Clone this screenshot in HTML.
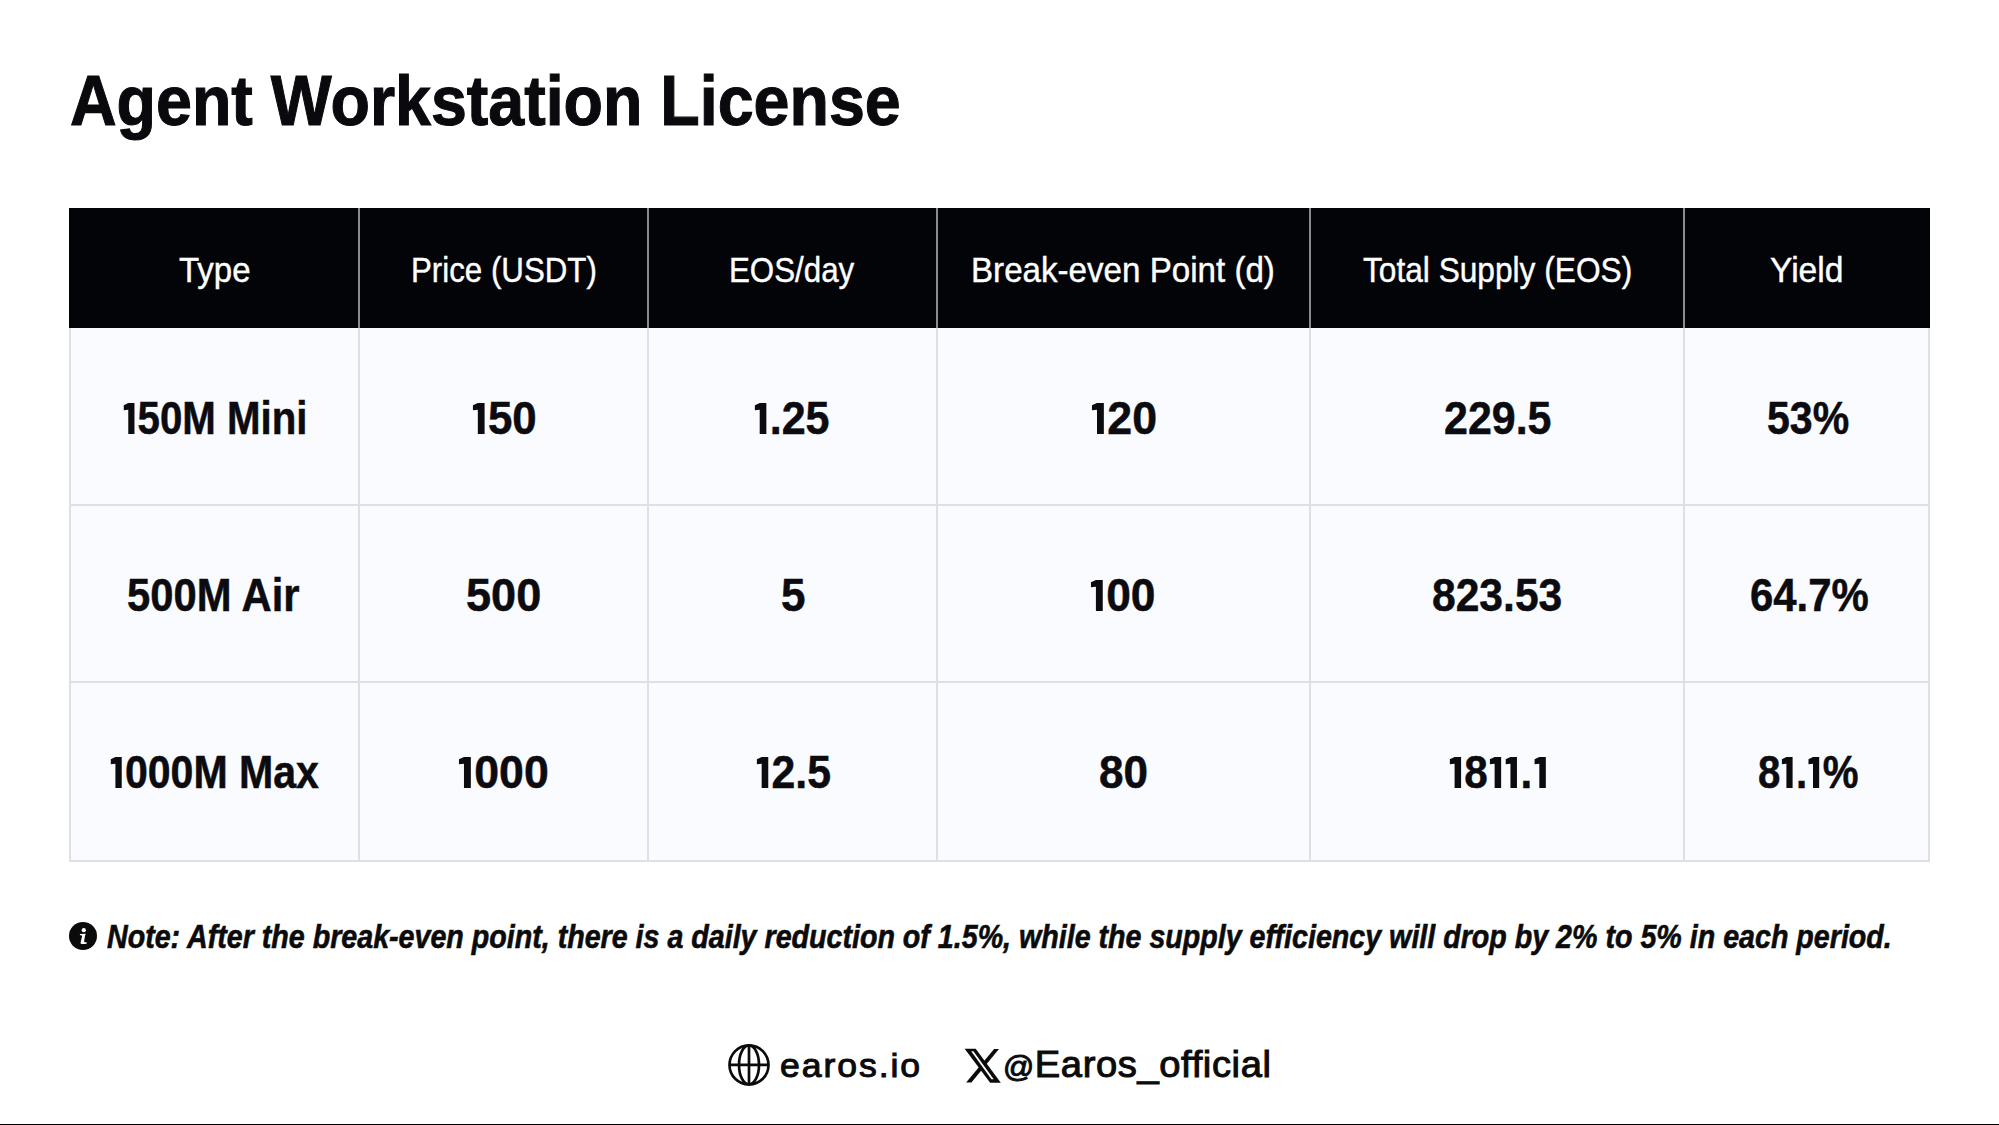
<!DOCTYPE html>
<html><head><meta charset="utf-8"><title>Agent Workstation License</title>
<style>
html,body{margin:0;padding:0;width:1999px;height:1125px;overflow:hidden;background:#ffffff;}
body{position:relative;font-family:"Liberation Sans",sans-serif;}
.tx{position:absolute;white-space:nowrap;line-height:1;transform-origin:0 0;font-weight:bold;color:#0b0b10;}
.t-t{color:#0a0a0e;-webkit-text-stroke:1.1px #0a0a0e;}
.t-h{color:#fff;font-weight:normal;-webkit-text-stroke:0.4px #fff;}
.t-b{-webkit-text-stroke:0.5px #0b0b10;}
.t-n{color:#0b0b0b;font-style:italic;-webkit-text-stroke:0.6px #0b0b0b;}
.t-f{color:#0b0b0b;font-weight:normal;-webkit-text-stroke:1.0px #0b0b0b;}
.at{font-size:29px;}
svg.one{display:inline-block;vertical-align:baseline;fill:#0b0b10;}
.hdr{position:absolute;left:69px;top:208px;width:1861px;height:120px;background:#030408;}
.body{position:absolute;left:69px;top:328px;width:1861px;height:533px;background:#fafbfe;}
.vl{position:absolute;width:2px;}
.vl.hd{top:208px;height:120px;background:#8a8b90;}
.vl.bd{top:328px;height:534px;background:#dfe0e5;}
.hl{position:absolute;left:69px;width:1861px;height:2px;background:#dfe0e5;}
.bl{position:absolute;top:328px;height:534px;width:2px;background:#dfe0e5;}
.bottom{position:absolute;left:0;top:1124px;width:1999px;height:1px;background:#000;}
</style></head><body>
<div class="hdr"></div>
<div class="body"></div>
<div class="vl hd" style="left:358px"></div>
<div class="vl bd" style="left:358px"></div>
<div class="vl hd" style="left:647px"></div>
<div class="vl bd" style="left:647px"></div>
<div class="vl hd" style="left:936px"></div>
<div class="vl bd" style="left:936px"></div>
<div class="vl hd" style="left:1309px"></div>
<div class="vl bd" style="left:1309px"></div>
<div class="vl hd" style="left:1683px"></div>
<div class="vl bd" style="left:1683px"></div>
<div class="hl" style="top:504px"></div>
<div class="hl" style="top:681px"></div>
<div class="hl" style="top:860px"></div>
<div class="bl" style="left:69px"></div>
<div class="bl" style="left:1928px"></div>
<svg style="position:absolute;left:69.3px;top:922.1px" width="28" height="28" viewBox="0 0 28 28">
<circle cx="14" cy="14" r="14" fill="#0b0b0b"/>
<circle cx="14.8" cy="8.2" r="2.1" fill="#fff"/>
<path d="M10.9 12.0 L16.8 11.7 L16.0 13.8 L15.1 19.6 Q15.0 20.3 15.8 20.3 L17.8 20.2 L17.5 21.7 Q16 22.1 13.0 22.0 Q11.2 21.9 11.6 20.4 L13.2 13.8 L10.9 13.1 Z" fill="#fff"/>
</svg>
<svg style="position:absolute;left:727px;top:1043px" width="44" height="44" viewBox="0 0 44 44">
<g fill="none" stroke="#0b0b0b" stroke-width="2.7">
<circle cx="22" cy="21.9" r="19.5"/>
<ellipse cx="22" cy="21.9" rx="10" ry="19.5"/>
<line x1="22" y1="2.4" x2="22" y2="41.4"/>
<line x1="2.5" y1="21.9" x2="41.5" y2="21.9"/>
</g></svg>
<svg style="position:absolute;left:955px;top:1040px" width="55" height="50" viewBox="0 0 55 50">
<path d="M39.1 9.1 L44 9.1 L16.4 42.4 L11.1 42.4 Z" fill="#0b0b0b"/>
<path d="M9.6 8.7 L20.7 8.7 L45.8 42.7 L35.1 42.7 Z" fill="#0b0b0b"/>
<path d="M16.2 11.3 L18.4 11.3 L38.7 39.3 L36.4 39.3 Z" fill="#fff"/>
</svg>
<div id="title" class="tx t-t" style="left:70.09px;top:65.50px;font-size:70.70px;transform:scaleX(0.9129)">Agent Workstation License</div>
<div id="h0" class="tx t-h" style="left:178.81px;top:252.25px;font-size:35.00px;transform:scaleX(0.9421)">Type</div>
<div id="h1" class="tx t-h" style="left:410.66px;top:252.25px;font-size:35.00px;transform:scaleX(0.8931)">Price (USDT)</div>
<div id="h2" class="tx t-h" style="left:729.31px;top:252.25px;font-size:35.00px;transform:scaleX(0.8942)">EOS/day</div>
<div id="h3" class="tx t-h" style="left:970.95px;top:252.25px;font-size:35.00px;transform:scaleX(0.9468)">Break-even Point (d)</div>
<div id="h4" class="tx t-h" style="left:1363.22px;top:252.25px;font-size:35.00px;transform:scaleX(0.9044)">Total Supply (EOS)</div>
<div id="h5" class="tx t-h" style="left:1769.83px;top:252.25px;font-size:35.00px;transform:scaleX(0.9595)">Yield</div>
<div id="r0c0" class="tx t-b" style="left:122.06px;top:395.81px;font-size:45.40px;transform:scaleX(0.8863)"><svg class="one" viewBox="0 0 387 687" width="17.57" height="31.19"><path d="M44 51 L156 0 L310 0 L310 687 L156 687 L156 148 L44 157 Z"/></svg>50M Mini</div>
<div id="r0c1" class="tx t-b" style="left:470.65px;top:395.81px;font-size:45.40px;transform:scaleX(0.9662)"><svg class="one" viewBox="0 0 387 687" width="17.57" height="31.19"><path d="M44 51 L156 0 L310 0 L310 687 L156 687 L156 148 L44 157 Z"/></svg>50</div>
<div id="r0c2" class="tx t-b" style="left:753.10px;top:395.81px;font-size:45.40px;transform:scaleX(0.9487)"><svg class="one" viewBox="0 0 387 687" width="17.57" height="31.19"><path d="M44 51 L156 0 L310 0 L310 687 L156 687 L156 148 L44 157 Z"/></svg>.25</div>
<div id="r0c3" class="tx t-b" style="left:1090.03px;top:395.81px;font-size:45.40px;transform:scaleX(0.9846)"><svg class="one" viewBox="0 0 387 687" width="17.57" height="31.19"><path d="M44 51 L156 0 L310 0 L310 687 L156 687 L156 148 L44 157 Z"/></svg>20</div>
<div id="r0c4" class="tx t-b" style="left:1444.05px;top:395.81px;font-size:45.40px;transform:scaleX(0.9465)">229.5</div>
<div id="r0c5" class="tx t-b" style="left:1767.10px;top:395.81px;font-size:45.40px;transform:scaleX(0.9045)">53%</div>
<div id="r1c0" class="tx t-b" style="left:127.30px;top:572.81px;font-size:45.40px;transform:scaleX(0.9204)">500M Air</div>
<div id="r1c1" class="tx t-b" style="left:466.01px;top:572.81px;font-size:45.40px;transform:scaleX(0.9932)">500</div>
<div id="r1c2" class="tx t-b" style="left:781.03px;top:572.81px;font-size:45.40px;transform:scaleX(0.9696)">5</div>
<div id="r1c3" class="tx t-b" style="left:1089.05px;top:572.81px;font-size:45.40px;transform:scaleX(0.9767)"><svg class="one" viewBox="0 0 387 687" width="17.57" height="31.19"><path d="M44 51 L156 0 L310 0 L310 687 L156 687 L156 148 L44 157 Z"/></svg>00</div>
<div id="r1c4" class="tx t-b" style="left:1431.67px;top:572.81px;font-size:45.40px;transform:scaleX(0.9383)">823.53</div>
<div id="r1c5" class="tx t-b" style="left:1750.11px;top:572.81px;font-size:45.40px;transform:scaleX(0.9231)">64.7%</div>
<div id="r2c0" class="tx t-b" style="left:108.75px;top:750.31px;font-size:45.40px;transform:scaleX(0.9048)"><svg class="one" viewBox="0 0 387 687" width="17.57" height="31.19"><path d="M44 51 L156 0 L310 0 L310 687 L156 687 L156 148 L44 157 Z"/></svg>000M Max</div>
<div id="r2c1" class="tx t-b" style="left:457.03px;top:750.31px;font-size:45.40px;transform:scaleX(0.9834)"><svg class="one" viewBox="0 0 387 687" width="17.57" height="31.19"><path d="M44 51 L156 0 L310 0 L310 687 L156 687 L156 148 L44 157 Z"/></svg>000</div>
<div id="r2c2" class="tx t-b" style="left:754.69px;top:750.31px;font-size:45.40px;transform:scaleX(0.9424)"><svg class="one" viewBox="0 0 387 687" width="17.57" height="31.19"><path d="M44 51 L156 0 L310 0 L310 687 L156 687 L156 148 L44 157 Z"/></svg>2.5</div>
<div id="r2c3" class="tx t-b" style="left:1099.22px;top:750.31px;font-size:45.40px;transform:scaleX(0.9709)">80</div>
<div id="r2c4" class="tx t-b" style="left:1448.32px;top:750.31px;font-size:45.40px;transform:scaleX(0.9311)"><svg class="one" viewBox="0 0 387 687" width="17.57" height="31.19"><path d="M44 51 L156 0 L310 0 L310 687 L156 687 L156 148 L44 157 Z"/></svg>8<svg class="one" viewBox="0 0 387 687" width="17.57" height="31.19"><path d="M44 51 L156 0 L310 0 L310 687 L156 687 L156 148 L44 157 Z"/></svg><svg class="one" viewBox="0 0 387 687" width="17.57" height="31.19"><path d="M44 51 L156 0 L310 0 L310 687 L156 687 L156 148 L44 157 Z"/></svg>.<svg class="one" viewBox="0 0 387 687" width="17.57" height="31.19"><path d="M44 51 L156 0 L310 0 L310 687 L156 687 L156 148 L44 157 Z"/></svg></div>
<div id="r2c5" class="tx t-b" style="left:1758.34px;top:750.31px;font-size:45.40px;transform:scaleX(0.8857)">8<svg class="one" viewBox="0 0 387 687" width="17.57" height="31.19"><path d="M44 51 L156 0 L310 0 L310 687 L156 687 L156 148 L44 157 Z"/></svg>.<svg class="one" viewBox="0 0 387 687" width="17.57" height="31.19"><path d="M44 51 L156 0 L310 0 L310 687 L156 687 L156 148 L44 157 Z"/></svg>%</div>
<div id="note" class="tx t-n" style="left:107.00px;top:921.29px;font-size:32.60px;transform:scaleX(0.8787)">Note: After the break-even point, there is a daily reduction of 1.5%, while the supply efficiency will drop by 2% to 5% in each period.</div>
<div id="web" class="tx t-f" style="left:779.94px;top:1049.34px;font-size:33.60px;letter-spacing:1.822px;transform:scaleX(1.0600)">earos.io</div>
<div id="tw" class="tx t-f" style="left:1003.10px;top:1046.90px;font-size:36.00px;letter-spacing:0.562px;transform:scaleX(1.0600)"><span class="at">@</span>Earos_official</div>
<div class="bottom"></div>
</body></html>
